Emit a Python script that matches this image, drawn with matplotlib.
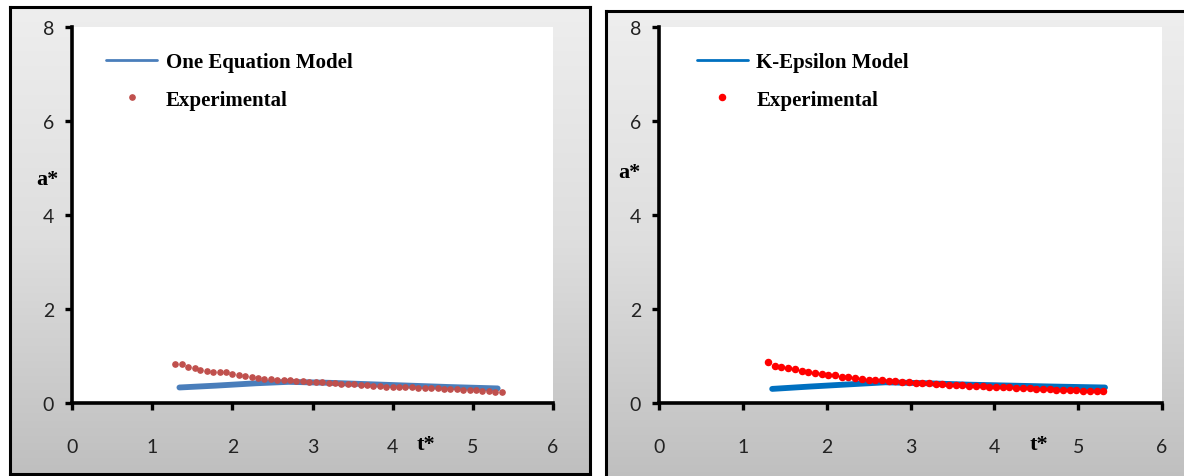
import numpy as np
import matplotlib
matplotlib.use('Agg')
from matplotlib import pyplot as plt

# experimental data, left panel
t_exp_left = [1.29, 1.37, 1.45, 1.53, 1.60, 1.68, 1.76, 1.84, 1.92, 2.00,
              2.08, 2.16, 2.24, 2.32, 2.40, 2.48, 2.56, 2.64, 2.72, 2.80,
              2.88, 2.96, 3.04, 3.12, 3.20, 3.28, 3.36, 3.44, 3.52, 3.60,
              3.68, 3.76, 3.84, 3.92, 4.00, 4.08, 4.16, 4.24, 4.32, 4.40,
              4.48, 4.56, 4.64, 4.72, 4.80, 4.88, 4.96, 5.04, 5.12, 5.20,
              5.28, 5.36]
a_exp_left = [0.84, 0.83, 0.77, 0.74, 0.71, 0.68, 0.66, 0.65, 0.66, 0.61,
              0.59, 0.58, 0.56, 0.54, 0.52, 0.51, 0.50, 0.49, 0.48, 0.47,
              0.46, 0.45, 0.44, 0.44, 0.43, 0.42, 0.41, 0.40, 0.40, 0.38,
              0.38, 0.37, 0.36, 0.35, 0.35, 0.34, 0.34, 0.33, 0.32, 0.32,
              0.31, 0.31, 0.30, 0.29, 0.29, 0.28, 0.28, 0.27, 0.26, 0.25,
              0.24, 0.24]

# experimental data, right panel
t_exp_right = [1.30, 1.38, 1.46, 1.54, 1.62, 1.70, 1.78, 1.86, 1.94, 2.02,
               2.10, 2.18, 2.26, 2.34, 2.42, 2.50, 2.58, 2.66, 2.74, 2.82,
               2.90, 2.98, 3.06, 3.14, 3.22, 3.30, 3.38, 3.46, 3.54, 3.62,
               3.70, 3.78, 3.86, 3.94, 4.02, 4.10, 4.18, 4.26, 4.34, 4.42,
               4.50, 4.58, 4.66, 4.74, 4.82, 4.90, 4.98, 5.06, 5.14, 5.22,
               5.30]
a_exp_right = [0.87, 0.79, 0.76, 0.75, 0.72, 0.68, 0.65, 0.64, 0.62, 0.60,
               0.60, 0.56, 0.55, 0.53, 0.52, 0.50, 0.49, 0.48, 0.47, 0.46,
               0.45, 0.44, 0.43, 0.43, 0.42, 0.41, 0.40, 0.39, 0.39, 0.38,
               0.37, 0.36, 0.36, 0.35, 0.34, 0.34, 0.33, 0.32, 0.31, 0.31,
               0.30, 0.30, 0.29, 0.28, 0.28, 0.27, 0.27, 0.26, 0.26, 0.25,
               0.25]

# model curves
t_one_eq = [1.34, 1.8, 2.3, 2.7, 3.2, 3.7, 4.2, 4.7, 5.31]
a_one_eq = [0.33, 0.37, 0.42, 0.45, 0.43, 0.40, 0.37, 0.34, 0.31]
t_keps = [1.35, 1.8, 2.3, 2.7, 3.2, 3.7, 4.2, 4.7, 5.32]
a_keps = [0.30, 0.35, 0.40, 0.44, 0.42, 0.39, 0.37, 0.35, 0.33]

W, H = 1184, 477
fig = plt.figure(figsize=(W / 100, H / 100), dpi=100, facecolor='white')
serif = 'Liberation Serif'


def px(x0, y0, x1, y1):
    # pixel box (top-left origin) -> figure fraction rect
    return [x0 / W, 1 - y1 / H, (x1 - x0) / W, (y1 - y0) / H]


def panel_bg(box):
    bg = fig.add_axes(px(*box), zorder=0)
    grad = np.linspace(0, 1, 256).reshape(-1, 1)
    cmap = matplotlib.colors.LinearSegmentedColormap.from_list(
        'g', ['#eeeeee', '#dedede', '#bfbfbf'])
    bg.imshow(grad, cmap=cmap, aspect='auto', extent=[0, 1, 0, 1])
    bg.set_xticks([])
    bg.set_yticks([])
    for s in bg.spines.values():
        s.set_linewidth(2.2)
        s.set_color('black')


def style_ax(ax):
    ax.set_xlim(0, 6)
    ax.set_ylim(0, 8)
    ax.set_xticks(range(0, 7))
    ax.set_yticks([0, 2, 4, 6, 8])
    ax.spines['top'].set_visible(False)
    ax.spines['right'].set_visible(False)
    ax.spines['left'].set_linewidth(2.6)
    ax.spines['bottom'].set_linewidth(2.6)
    ax.tick_params(axis='both', direction='out', length=5, width=2.4,
                   labelsize=14)
    ax.tick_params(axis='x', pad=20)
    ax.tick_params(axis='y', pad=8)
    for lab in ax.get_xticklabels() + ax.get_yticklabels():
        lab.set_family('Lato')
        lab.set_color('#222222')


def add_legend(ax, x_anchor):
    ax.legend(loc='upper left', bbox_to_anchor=(x_anchor, 0.934), frameon=False,
              prop={'family': serif, 'weight': 'bold', 'size': 15},
              handlelength=2.45, labelspacing=0.86, handletextpad=0.4,
              borderpad=0, borderaxespad=0)
    ax.legend_.get_lines()[0].set_linewidth(2)


panel_bg((10, 8, 590, 475))
panel_bg((606, 12, 1190, 482))

# left panel
ax1 = fig.add_axes(px(72, 28, 553, 404), zorder=2)
ax1.plot(t_one_eq, a_one_eq, color='#4a7ebb', lw=4.2, solid_capstyle='round',
         label='One Equation Model')
ax1.plot(t_exp_left, a_exp_left, ls='none', marker='o', ms=3.8, color='#c0504d',
         label='Experimental')
style_ax(ax1)
add_legend(ax1, 0.071)
ax1.text(-0.31, 4.77, 'a*', ha='center', va='center', fontsize=16,
         fontweight='bold', family=serif)
ax1.text(4.42, -0.87, 't*', ha='center', va='center', fontsize=16,
         fontweight='bold', family=serif, clip_on=False)

# right panel
ax2 = fig.add_axes(px(659, 28, 1162, 404), zorder=2)
ax2.plot(t_keps, a_keps, color='#0070c0', lw=4.2, solid_capstyle='round',
         label='K-Epsilon Model')
ax2.plot(t_exp_right, a_exp_right, ls='none', marker='o', ms=4.4, color='#ff0000',
         label='Experimental')
style_ax(ax2)
add_legend(ax2, 0.0755)
ax2.text(-0.35, 4.92, 'a*', ha='center', va='center', fontsize=16,
         fontweight='bold', family=serif)
ax2.text(4.53, -0.87, 't*', ha='center', va='center', fontsize=16,
         fontweight='bold', family=serif, clip_on=False)

plt.savefig('out.png', dpi=100, facecolor=fig.get_facecolor())
